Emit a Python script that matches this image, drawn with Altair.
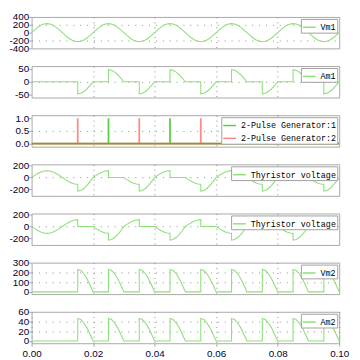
import altair as alt
import pandas as pd

# ---------------- data ----------------
# sample grid: every 1 ms from 0 to 100 ms; switching instants appear twice
jumps_ms = [15, 25, 35, 45, 55, 65, 75, 85, 95]

vm1 = [
    0, 71, 135, 186, 219, 230, 219, 186, 135, 71, 0, -71, -135, -186, -219,
    -230, -230, -219, -186, -135, -71, 0, 71, 135, 186, 219,
    230, 230, 219, 186, 135, 71, 0, -71, -135, -186, -219,
    -230, -230, -219, -186, -135, -71, 0, 71, 135, 186, 219,
    230, 230, 219, 186, 135, 71, 0, -71, -135, -186, -219,
    -230, -230, -219, -186, -135, -71, 0, 71, 135, 186, 219,
    230, 230, 219, 186, 135, 71, 0, -71, -135, -186, -219,
    -230, -230, -219, -186, -135, -71, 0, 71, 135, 186, 219,
    230, 230, 219, 186, 135, 71, 0, -71, -135, -186, -219,
    -230, -230, -219, -186, -135, -71, 0,
]

am1 = [
    0, 0, 0, 0, 0, 0, 0, 0, 0, 0, 0, 0, 0, 0, 0,
    0, -46, -44, -37, -27, -14, 0, 0, 0, 0, 0,
    0, 46, 44, 37, 27, 14, 0, 0, 0, 0, 0,
    0, -46, -44, -37, -27, -14, 0, 0, 0, 0, 0,
    0, 46, 44, 37, 27, 14, 0, 0, 0, 0, 0,
    0, -46, -44, -37, -27, -14, 0, 0, 0, 0, 0,
    0, 46, 44, 37, 27, 14, 0, 0, 0, 0, 0,
    0, -46, -44, -37, -27, -14, 0, 0, 0, 0, 0,
    0, 46, 44, 37, 27, 14, 0, 0, 0, 0, 0,
    0, -46, -44, -37, -27, -14, 0,
]

gen1_times = [0.025, 0.045, 0.065, 0.085]
gen2_times = [0.015, 0.035, 0.055, 0.075, 0.095]
pulse_high = 1.0

thy1 = [
    0, 36, 68, 93, 109, 115, 109, 93, 68, 36, 0, -36, -68, -93, -109,
    -115, -230, -219, -186, -135, -71, 0, 36, 68, 93, 109,
    115, 0, 0, 0, 0, 0, 0, -36, -68, -93, -109,
    -115, -230, -219, -186, -135, -71, 0, 36, 68, 93, 109,
    115, 0, 0, 0, 0, 0, 0, -36, -68, -93, -109,
    -115, -230, -219, -186, -135, -71, 0, 36, 68, 93, 109,
    115, 0, 0, 0, 0, 0, 0, -36, -68, -93, -109,
    -115, -230, -219, -186, -135, -71, 0, 36, 68, 93, 109,
    115, 0, 0, 0, 0, 0, 0, -36, -68, -93, -109,
    -115, -230, -219, -186, -135, -71, 0,
]

thy2 = [
    0, -36, -68, -93, -109, -115, -109, -93, -68, -36, 0, 36, 68, 93, 109,
    115, 0, 0, 0, 0, 0, 0, -36, -68, -93, -109,
    -115, -230, -219, -186, -135, -71, 0, 36, 68, 93, 109,
    115, 0, 0, 0, 0, 0, 0, -36, -68, -93, -109,
    -115, -230, -219, -186, -135, -71, 0, 36, 68, 93, 109,
    115, 0, 0, 0, 0, 0, 0, -36, -68, -93, -109,
    -115, -230, -219, -186, -135, -71, 0, 36, 68, 93, 109,
    115, 0, 0, 0, 0, 0, 0, -36, -68, -93, -109,
    -115, -230, -219, -186, -135, -71, 0, 36, 68, 93, 109,
    115, 0, 0, 0, 0, 0, 0,
]

vm2 = [
    0, 0, 0, 0, 0, 0, 0, 0, 0, 0, 0, 0, 0, 0, 0,
    0, 230, 219, 186, 135, 71, 0, 0, 0, 0, 0,
    0, 230, 219, 186, 135, 71, 0, 0, 0, 0, 0,
    0, 230, 219, 186, 135, 71, 0, 0, 0, 0, 0,
    0, 230, 219, 186, 135, 71, 0, 0, 0, 0, 0,
    0, 230, 219, 186, 135, 71, 0, 0, 0, 0, 0,
    0, 230, 219, 186, 135, 71, 0, 0, 0, 0, 0,
    0, 230, 219, 186, 135, 71, 0, 0, 0, 0, 0,
    0, 230, 219, 186, 135, 71, 0, 0, 0, 0, 0,
    0, 230, 219, 186, 135, 71, 0,
]

am2 = [
    0, 0, 0, 0, 0, 0, 0, 0, 0, 0, 0, 0, 0, 0, 0,
    0, 46, 44, 37, 27, 14, 0, 0, 0, 0, 0,
    0, 46, 44, 37, 27, 14, 0, 0, 0, 0, 0,
    0, 46, 44, 37, 27, 14, 0, 0, 0, 0, 0,
    0, 46, 44, 37, 27, 14, 0, 0, 0, 0, 0,
    0, 46, 44, 37, 27, 14, 0, 0, 0, 0, 0,
    0, 46, 44, 37, 27, 14, 0, 0, 0, 0, 0,
    0, 46, 44, 37, 27, 14, 0, 0, 0, 0, 0,
    0, 46, 44, 37, 27, 14, 0, 0, 0, 0, 0,
    0, 46, 44, 37, 27, 14, 0,
]

x_ticks = [0.0, 0.02, 0.04, 0.06, 0.08, 0.10]
x_grid = [0.02, 0.04, 0.06, 0.08]

# ---------------- build ----------------
time_ms = []
for ms in range(0, 101):
    time_ms.append(ms)
    if ms in jumps_ms:
        time_ms.append(ms)
t = [m / 1000 for m in time_ms]

GREEN = "#8ee07a"
PULSE_GREEN = "#5cd044"
PULSE_RED = "rgba(255,60,60,0.6)"
FRAME = "#a8a8a8"
GRID = "#8c8c8c"
LABEL = "#000033"
W, H = 313, 32

legend_style = dict(
    title=None, orient="top-right", offset=2, fillColor="white",
    strokeColor="#a0a0a0", padding=1, cornerRadius=0,
    labelFont="Liberation Mono", labelFontSize=8.5, labelColor="black",
    symbolType="stroke", symbolSize=169, symbolStrokeWidth=1.5,
    labelOffset=4, rowPadding=1, labelLimit=300,
)


def x_enc(last):
    if last:
        ax = alt.Axis(values=x_ticks, format=".2f", title=None, grid=True,
                      gridDash=[1, 4], gridColor=GRID, domain=False,
                      tickSize=3, tickColor=FRAME, labelPadding=2,
                      labelFlush=False, labelFont="Liberation Sans",
                      labelFontSize=10, labelColor=LABEL)
    else:
        ax = alt.Axis(values=x_grid, title=None, grid=True, gridDash=[1, 4],
                      gridColor=GRID, domain=False, ticks=False, labels=False)
    return alt.X("t:Q", scale=alt.Scale(domain=[0, 0.1], nice=False, zero=False), axis=ax)


def y_enc(ydom, yticks, fmt, hide_zero):
    if fmt == "d":
        expr = "datum.value < 0 ? '-' + format(-datum.value, 'd') : format(datum.value, 'd')"
    else:
        expr = "format(datum.value, '.1f')"
    test = "datum.value === %s || datum.value === %s" % (yticks[0], yticks[-1])
    if hide_zero:
        test += " || datum.value === 0"
    ax = alt.Axis(values=yticks, title=None, grid=True, gridDash=[1, 6],
                  gridColor=GRID,
                  gridOpacity={"condition": {"test": test, "value": 0}, "value": 1},
                  domain=False, tickSize=3, tickColor=FRAME, labelPadding=0,
                  labelOverlap=False, labelFont="Liberation Sans",
                  labelFontSize=10, labelColor=LABEL, labelExpr=expr)
    return alt.Y("v:Q", scale=alt.Scale(domain=ydom, nice=False, zero=False), axis=ax)


def panel(values, name, ydom, yticks, fmt="d", hide_zero=False, last=False):
    df = pd.DataFrame({"t": t, "v": values, "i": list(range(len(t))), "s": name})
    return alt.Chart(df).mark_line(strokeWidth=1.1, clip=True).encode(
        x=x_enc(last),
        y=y_enc(ydom, yticks, fmt, hide_zero),
        order="i:Q",
        color=alt.Color("s:N", scale=alt.Scale(domain=[name], range=[GREEN]),
                        legend=alt.Legend(**legend_style)),
    ).properties(width=W, height=H)


def pulse_rows(times, name):
    rows = [(0.0, 0.0)]
    for tp in times:
        rows += [(tp, 0.0), (tp, pulse_high), (tp, 0.0)]
    rows.append((0.1, 0.0))
    return [{"t": a, "v": b, "i": k, "s": name} for k, (a, b) in enumerate(rows)]


g1, g2 = "2-Pulse Generator:1", "2-Pulse Generator:2"
pulse_df = pd.DataFrame(pulse_rows(gen1_times, g1) + pulse_rows(gen2_times, g2))
pulse_chart = alt.Chart(pulse_df).mark_line(strokeWidth=1.8, clip=True).encode(
    x=x_enc(False),
    y=y_enc([-0.12, 1.12], [0, 0.5, 1.0], "f", False),
    order="i:Q",
    color=alt.Color("s:N", scale=alt.Scale(domain=[g1, g2], range=[PULSE_GREEN, PULSE_RED]),
                    legend=alt.Legend(**legend_style)),
).properties(width=W, height=H)

charts = [
    panel(vm1, "Vm1", [-400, 400], [-400, -200, 0, 200, 400], hide_zero=True),
    panel(am1, "Am1", [-60, 60], [-50, 0, 50]),
    pulse_chart,
    panel(thy1, "Thyristor voltage", [-310, 222], [-200, 0, 200]),
    panel(thy2, "Thyristor voltage", [-310, 218], [-200, 0, 200]),
    panel(vm2, "Vm2", [-23, 300], [0, 100, 200, 300]),
    panel(am2, "Am2", [-4.6, 60], [0, 20, 40, 60], last=True),
]

chart = alt.vconcat(*charts, spacing=18, bounds="flush").resolve_scale(
    color="independent"
).resolve_legend(color="independent").properties(
    padding={"left": 0, "top": 0, "right": 2, "bottom": 0},
    background="white",
).configure_view(stroke=FRAME, strokeWidth=1)

chart.save("out.html", embed_options={"renderer": "svg", "actions": False})
